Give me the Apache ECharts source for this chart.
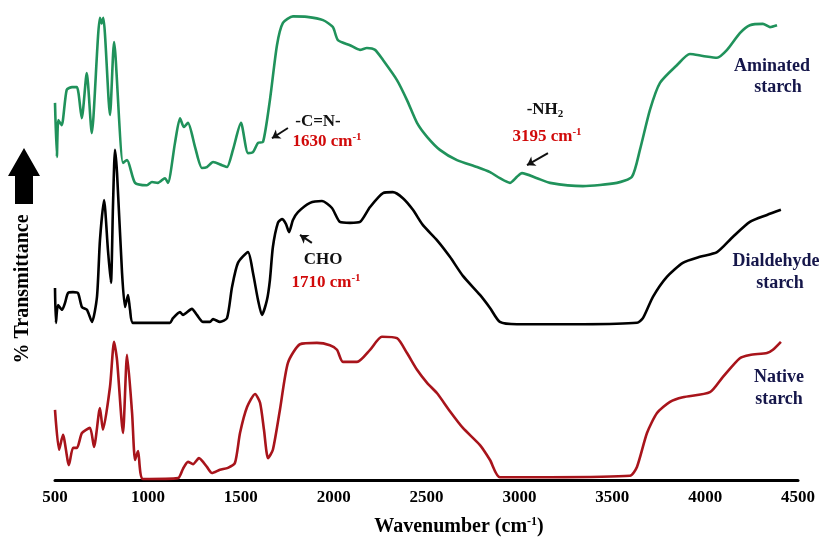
<!DOCTYPE html>
<html>
<head>
<meta charset="utf-8">
<script src="https://cdn.jsdelivr.net/npm/echarts@6/dist/echarts.min.js"></script>
<style>
  html, body { margin: 0; padding: 0; background: #fff; }
  #chart { width: 819px; height: 542px; }
</style>
</head>
<body>
<div id="chart"></div>
<script>
// Wavenumber axis ticks (cm-1)
const wavenumberTicks = [500, 1000, 1500, 2000, 2500, 3000, 3500, 4000, 4500];

// FTIR spectra, [wavenumber, transmittance (offset-stacked, a.u.)]
const nativeStarch = [
  [500, 15.1], [522, 6.5], [543, 9.7], [575, 3.2], [597, 6.9], [618, 6.9], [645, 10.1],
  [688, 11.2], [710, 7.1], [742, 15.5], [758, 10.8], [796, 20.0], [818, 29.7], [834, 25.8],
  [866, 10.1], [888, 26.9], [915, 14.4], [931, 4.3], [947, 6.2], [974, 0.2], [1162, 0.4],
  [1189, 2.4], [1216, 3.9], [1243, 3.4], [1275, 4.7], [1318, 2.8], [1345, 1.5], [1388, 2.2],
  [1431, 2.6], [1469, 3.7], [1496, 10.1], [1534, 15.7], [1577, 18.5], [1604, 16.6],
  [1625, 10.8], [1647, 4.7], [1673, 6.5], [1711, 15.1], [1754, 25.2], [1819, 29.2],
  [1910, 29.5], [1980, 29.0], [2018, 28.0], [2050, 25.4], [2126, 25.4], [2196, 28.0],
  [2260, 30.8], [2341, 30.5], [2395, 27.3], [2449, 23.7], [2503, 20.9], [2556, 18.7],
  [2626, 14.8], [2696, 11.2], [2788, 7.5], [2842, 4.3], [2895, 0.6], [3165, 0.6],
  [3595, 0.9], [3633, 2.8], [3687, 10.1], [3741, 14.4], [3811, 16.8], [3880, 17.8],
  [4026, 18.9], [4096, 22.2], [4187, 26.2], [4241, 26.9], [4333, 27.3], [4365, 28.0],
  [4408, 29.7]
];

const dialdehydeStarch = [
  [500, 41.3], [505, 33.8], [516, 37.6], [538, 36.6], [554, 38.1], [570, 40.2], [597, 40.4],
  [624, 40.2], [645, 37.2], [672, 36.6], [699, 34.0], [726, 39.4], [742, 51.6], [764, 60.2],
  [785, 49.5], [801, 42.4], [812, 58.7], [823, 71.0], [834, 66.0], [861, 44.5], [877, 37.2],
  [893, 39.8], [904, 36.6], [920, 33.8], [1119, 33.8], [1135, 34.8], [1173, 36.1],
  [1189, 35.5], [1237, 36.8], [1264, 35.5], [1297, 34.0], [1334, 34.0], [1351, 34.6],
  [1388, 34.0], [1426, 34.8], [1453, 41.5], [1485, 46.7], [1539, 49.0], [1566, 44.5],
  [1593, 38.7], [1614, 35.5], [1641, 38.7], [1657, 43.0], [1673, 50.1], [1700, 55.3],
  [1722, 56.1], [1743, 55.1], [1760, 53.3], [1781, 55.9], [1808, 57.6], [1873, 59.6],
  [1937, 60.0], [1991, 58.5], [2034, 55.5], [2088, 55.3], [2142, 55.5], [2196, 58.7],
  [2266, 61.7], [2319, 61.9], [2373, 60.6], [2427, 58.1], [2481, 54.8], [2556, 51.6],
  [2626, 48.0], [2696, 43.9], [2788, 39.8], [2842, 37.0], [2895, 34.0], [2987, 33.5],
  [3342, 33.5], [3633, 33.8], [3665, 34.8], [3719, 39.4], [3794, 43.7], [3880, 46.7],
  [3972, 48.0], [4064, 49.0], [4150, 52.3], [4241, 55.5], [4333, 57.0], [4408, 58.1]
];

const aminatedStarch = [
  [500, 81.1], [510, 69.5], [518, 77.4], [536, 76.3], [563, 83.9], [592, 84.5], [618, 84.5],
  [644, 77.8], [671, 87.5], [698, 74.6], [742, 99.4], [751, 98.2], [760, 99.4], [796, 78.5],
  [818, 94.2], [866, 68.2], [888, 68.8], [931, 63.9], [995, 63.4], [1022, 64.1], [1054, 63.9],
  [1092, 64.9], [1108, 63.9], [1146, 72.5], [1173, 77.8], [1194, 75.9], [1216, 76.8],
  [1254, 71.6], [1291, 67.1], [1318, 67.3], [1351, 68.4], [1399, 67.7], [1426, 67.3],
  [1458, 71.0], [1501, 76.8], [1539, 70.3], [1566, 70.5], [1593, 72.5], [1620, 72.7],
  [1657, 81.7], [1695, 93.5], [1727, 98.3], [1781, 99.7], [1857, 99.6], [1943, 98.9],
  [1996, 97.4], [2023, 94.6], [2088, 93.5], [2142, 92.5], [2179, 92.9], [2223, 92.5],
  [2266, 90.3], [2341, 86.0], [2395, 81.7], [2449, 76.8], [2503, 73.8], [2572, 71.0],
  [2664, 68.8], [2772, 67.3], [2842, 66.2], [2895, 64.9], [2949, 63.9], [2987, 65.2],
  [3014, 66.0], [3095, 64.9], [3165, 63.9], [3342, 63.2], [3525, 63.9], [3606, 65.2],
  [3649, 71.0], [3703, 79.6], [3757, 85.4], [3848, 89.2], [3918, 91.6], [3988, 91.2],
  [4064, 90.8], [4118, 92.5], [4187, 96.1], [4241, 97.8], [4311, 98.1], [4349, 97.4],
  [4387, 97.8]
];

const serif = '"Liberation Serif", "Times New Roman", serif';
const noteRed = '#d10a0a';
const nameNavy = '#15164a';

const chart = echarts.init(document.getElementById('chart'));

// Centered bold serif text; {s|..} is a superscript run, {d|..} a subscript run
function richText(x, y, text, size, color) {
  const small = Math.round(size * 0.62);
  return {
    type: 'text', x: x, y: y, silent: true,
    style: {
      text: text,
      align: 'center', verticalAlign: 'middle',
      fontFamily: serif, fontWeight: 'bold', fontSize: size, fill: color,
      rich: {
        a: { fontFamily: serif, fontWeight: 'bold', fontSize: size, lineHeight: size + 3, fill: color },
        s: { fontFamily: serif, fontWeight: 'bold', fontSize: small, lineHeight: small, verticalAlign: 'top', fill: color },
        d: { fontFamily: serif, fontWeight: 'bold', fontSize: small, lineHeight: small, verticalAlign: 'bottom', fill: color }
      }
    }
  };
}

const arrowStyle = { color: '#111', width: 2, type: 'solid' };
const lineCommon = { type: 'line', showSymbol: false, smooth: 0.22, z: 3 };

chart.setOption({
  animation: false,
  backgroundColor: '#fff',
  grid: { left: 55, right: 21, top: 15, bottom: 62 },
  xAxis: {
    type: 'value',
    min: wavenumberTicks[0],
    max: wavenumberTicks[wavenumberTicks.length - 1],
    interval: wavenumberTicks[1] - wavenumberTicks[0],
    axisLine: { show: true, lineStyle: { color: '#000', width: 3 } },
    axisTick: { show: false },
    splitLine: { show: false },
    axisLabel: {
      show: true, margin: 9, color: '#000',
      fontFamily: serif, fontWeight: 'bold', fontSize: 17,
      showMinLabel: true, showMaxLabel: true,
      formatter: function (v) { return String(v); }
    }
  },
  yAxis: {
    type: 'value', min: 0, max: 100,
    axisLine: { show: false }, axisTick: { show: false },
    axisLabel: { show: false }, splitLine: { show: false }
  },
  series: [
    Object.assign({}, lineCommon, {
      name: 'Native starch', data: nativeStarch,
      lineStyle: { color: '#a8141b', width: 2.6 }
    }),
    Object.assign({}, lineCommon, {
      name: 'Dialdehyde starch', data: dialdehydeStarch,
      lineStyle: { color: '#000000', width: 2.6 },
      markLine: {
        silent: true, symbol: ['none', 'arrow'], symbolSize: 8,
        lineStyle: arrowStyle, label: { show: false },
        data: [[{ coord: [1883, 51.0] }, { coord: [1819, 52.7] }]]
      }
    }),
    Object.assign({}, lineCommon, {
      name: 'Aminated starch', data: aminatedStarch,
      lineStyle: { color: '#20925b', width: 2.6 },
      markLine: {
        silent: true, symbol: ['none', 'arrow'], symbolSize: 8,
        lineStyle: arrowStyle, label: { show: false },
        data: [
          [{ coord: [1754, 75.7] }, { coord: [1668, 73.5] }],
          [{ coord: [3154, 70.3] }, { coord: [3041, 67.7] }]
        ]
      }
    })
  ],
  graphic: [
    // upward arrow beside the y-axis title
    {
      type: 'polygon', silent: true,
      shape: { points: [[24, 148], [40, 176], [33, 176], [33, 204], [15, 204], [15, 176], [8, 176]] },
      style: { fill: '#000' }
    },
    {
      type: 'text', x: 23, y: 289, rotation: Math.PI / 2, silent: true,
      style: {
        text: '% Transmittance', fontFamily: serif, fontWeight: 'bold', fontSize: 20,
        fill: '#000', align: 'center', verticalAlign: 'middle'
      }
    },
    richText(459, 527, '{a|Wavenumber (cm}{s|-1}{a|)}', 20, '#000'),

    // series names
    richText(772, 66, '{a|Aminated}', 18, nameNavy),
    richText(778, 87, '{a|starch}', 18, nameNavy),
    richText(776, 261, '{a|Dialdehyde}', 18, nameNavy),
    richText(780, 283, '{a|starch}', 18, nameNavy),
    richText(779, 377, '{a|Native}', 18, nameNavy),
    richText(779, 399, '{a|starch}', 18, nameNavy),

    // band annotations
    richText(318, 122, '{a|-C=N-}', 17, '#111'),
    richText(327, 142, '{a|1630 cm}{s|-1}', 17, noteRed),
    richText(545, 110, '{a|-NH}{d|2}', 17, '#111'),
    richText(547, 137, '{a|3195 cm}{s|-1}', 17, noteRed),
    richText(323, 260, '{a|CHO}', 17, '#111'),
    richText(326, 283, '{a|1710 cm}{s|-1}', 17, noteRed)
  ]
});
</script>
</body>
</html>
